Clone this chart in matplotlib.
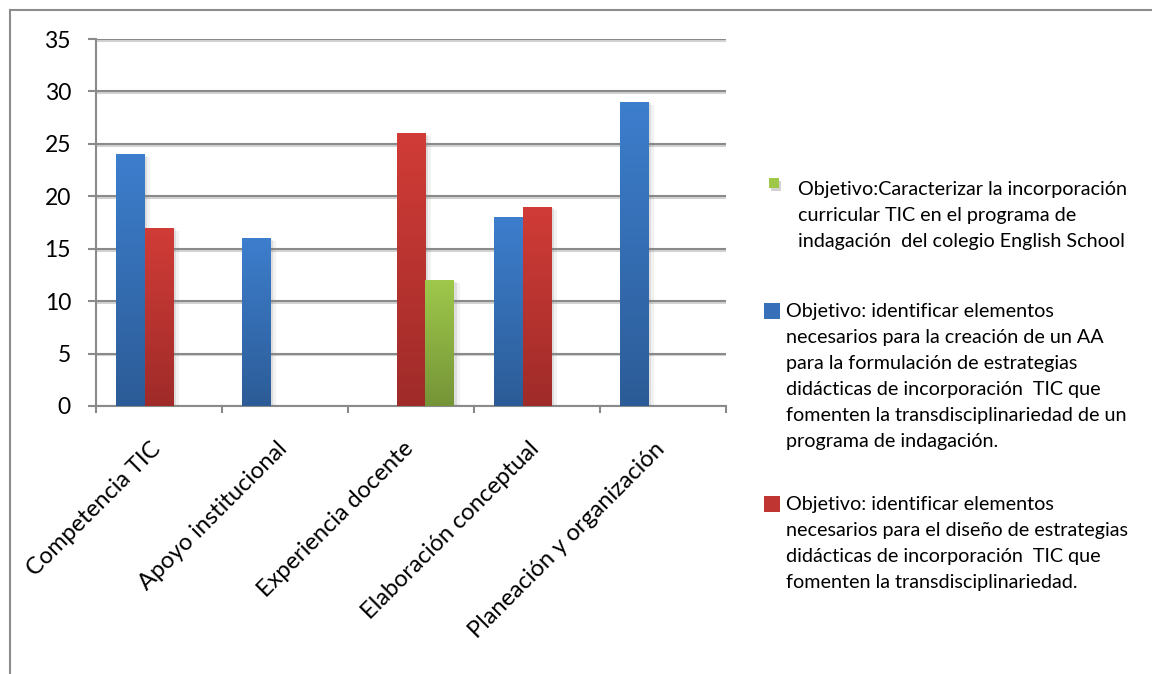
import numpy as np
import matplotlib.pyplot as plt
import matplotlib.patheffects as pe
import matplotlib.transforms as mtransforms
from matplotlib.patches import Rectangle
from matplotlib.lines import Line2D
from matplotlib.colors import LinearSegmentedColormap

plt.rcParams['font.family'] = ['Lato', 'DejaVu Sans']

categorias = ["Competencia TIC", "Apoyo institucional", "Experiencia docente",
              "Elaboración conceptual", "Planeación y organización"]
# series in the order they sit inside each group
vals_aa = [24, 16, 0, 18, 29]        # blue
vals_diseno = [17, 0, 26, 19, 0]     # red
vals_caract = [0, 0, 12, 0, 0]       # green
yticks = [0, 5, 10, 15, 20, 25, 30, 35]

lab_caract = ["Objetivo:Caracterizar la incorporación",
              "curricular TIC en el programa de",
              "indagación  del colegio English School"]
lab_aa = ["Objetivo: identificar elementos",
          "necesarios para la creación de un AA",
          "para la formulación de estrategias",
          "didácticas de incorporación  TIC que",
          "fomenten la transdisciplinariedad de un",
          "programa de indagación."]
lab_diseno = ["Objetivo: identificar elementos",
              "necesarios para el diseño de estrategias",
              "didácticas de incorporación  TIC que",
              "fomenten la transdisciplinariedad."]

# (top, bottom) gradient colours
BLUE = ("#3D7ECD", "#2C5C97")
RED = ("#D13C37", "#9F2B29")
GREEN = ("#9FC84B", "#759437")

W, H = 1152, 674
fig = plt.figure(figsize=(W / 100, H / 100), dpi=100)
ax = fig.add_axes([96 / W, 1 - 406 / H, 630 / W, 367 / H])

def px(x, y):
    return x / W, 1 - y / H

x = np.arange(len(categorias))
bw = 0.2275
shadow = [pe.SimplePatchShadow(offset=(2, -1), shadow_rgbFace="#808080", alpha=0.18),
          pe.SimplePatchShadow(offset=(4, -2), shadow_rgbFace="#808080", alpha=0.10),
          pe.Normal()]
grad = np.linspace(0, 1, 256).reshape(-1, 1)
for k, (vals, cols) in enumerate([(vals_aa, BLUE), (vals_diseno, RED), (vals_caract, GREEN)]):
    bars = ax.bar(x + (k - 1) * bw, vals, bw, color=cols[1], linewidth=0, zorder=3)
    cmap = LinearSegmentedColormap.from_list("g", [cols[1], cols[0]])
    for b in bars:
        if b.get_height() <= 0:
            continue
        b.set_path_effects(shadow)
        bx, by = b.get_x(), b.get_y()
        im = ax.imshow(grad, extent=[bx, bx + b.get_width(), by, by + b.get_height()],
                       origin="lower", aspect="auto", cmap=cmap, zorder=4,
                       interpolation="bilinear")
        im.set_clip_path(b)

ax.set_xlim(-0.5, len(categorias) - 0.5)
ax.set_ylim(0, 35)
ax.set_yticks(yticks)
ax.yaxis.grid(True, color="#8a8a8a", linewidth=1.5, zorder=1)
for gl in ax.get_ygridlines():
    gl.set_path_effects([pe.SimpleLineShadow(offset=(0, -1.3), shadow_color="#c8c8c8", alpha=0.8),
                         pe.Normal()])
ax.set_axisbelow(True)

ax.set_xticks(np.arange(-0.5, len(categorias)), labels=[""] * (len(categorias) + 1))
ax.set_xticks(x, labels=categorias, minor=True)
ax.tick_params(axis="x", which="major", length=5, width=1.5, color="#8a8a8a", direction="out")
ax.tick_params(axis="x", which="minor", length=0, pad=23, labelsize=17)
ax.tick_params(axis="y", length=6, width=1.5, color="#8a8a8a", pad=12, labelsize=16.5)
nudge = mtransforms.ScaledTranslation(6 / 100, 0, fig.dpi_scale_trans)
for lbl in ax.get_xticklabels(minor=True):
    lbl.set_rotation(45)
    lbl.set_ha("right")
    lbl.set_transform(lbl.get_transform() + nudge)

for s in ("top", "right"):
    ax.spines[s].set_visible(False)
for s in ("left", "bottom"):
    ax.spines[s].set_color("#8a8a8a")
    ax.spines[s].set_linewidth(1.5)

# outer chart frame (only left and top edges fall inside the image)
fig.add_artist(Line2D([9.5 / W, 9.5 / W], [0, 1 - 9.5 / H], color="#8c8c8c", lw=1.5))
fig.add_artist(Line2D([9.5 / W, 1], [1 - 9.5 / H, 1 - 9.5 / H], color="#8c8c8c", lw=1.5))

# legend
def legend_item(lines, key, text_x, base_y, cols, shadow_key=False):
    kx, ky, ks = key
    r = Rectangle(px(kx, ky + ks), ks / W, ks / H, transform=fig.transFigure,
                  facecolor=cols[0] if shadow_key else cols[1], edgecolor="none")
    if shadow_key:
        r.set_path_effects([pe.SimplePatchShadow(offset=(1.5, -2), shadow_rgbFace="#808080", alpha=0.35),
                            pe.Normal()])
    fig.add_artist(r)
    for i, t in enumerate(lines):
        fx, fy = px(text_x, base_y + 26 * i)
        fig.text(fx, fy, t, fontsize=14.2, va="baseline", ha="left", color="black")

legend_item(lab_caract, (769, 178, 10), 798, 195, GREEN, shadow_key=True)
legend_item(lab_aa, (764, 303, 16), 786, 317, ("#2F66AA", "#3770B8"))
legend_item(lab_diseno, (764, 496, 16), 786, 510, ("#B3312E", "#BE3531"))

fig.savefig("out.png", dpi=100)
